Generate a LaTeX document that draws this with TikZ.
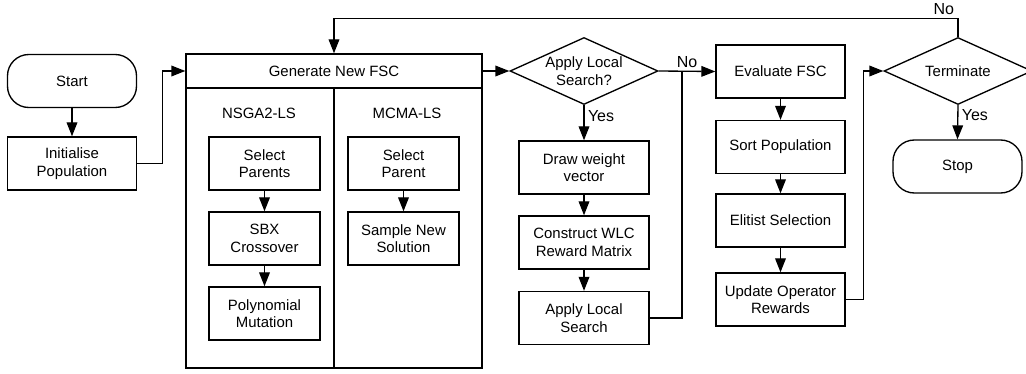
\documentclass[tikz,border=0pt]{standalone}
\usepackage{fontspec}
\setmainfont{Liberation Sans}
\usetikzlibrary{arrows.meta,shapes}

\begin{document}
\begin{tikzpicture}[x=0.75pt,y=-0.75pt,line width=1pt,
    every node/.style={font=\fontsize{11.2}{13.2}\selectfont,align=center},
    flowbox/.style={draw,rectangle,minimum width=96.75pt,minimum height=39.75pt,inner sep=1pt},
    subbox/.style={flowbox,minimum width=83.25pt},
    widebox/.style={flowbox,minimum width=97.5pt},
    terminal/.style={flowbox,rounded corners=16pt},
    decision/.style={draw,diamond,minimum width=111pt,minimum height=50.25pt,inner sep=0pt},
    answer/.style={font=\fontsize{12}{14}\selectfont,inner sep=2.5pt},
    flow/.style={-{Triangle[length=10.5pt,width=8pt]}}]

\useasboundingbox (0,0) rectangle (1026,374);

\node (start)	at (72,81)	[terminal] {Start};
\node (init)	at (72,163.5)	[flowbox] {Initialise\\Population};

\node (gen)	at (334,71)	[draw,minimum width=222pt,minimum height=25.5pt] {Generate New FSC};
\node (genbody)	at (334,228)	[draw,minimum width=222pt,minimum height=210pt] {};
\draw (gen.south) -- (genbody.south);

\node (nsga_label)	at (259,113)	{NSGA2-LS};
\node (select_parents)	at (264.5,163.5)	[subbox] {Select\\Parents};
\node (sbx)		at (264.5,238.5)	[subbox] {SBX\\Crossover};
\node (polymut)	at (264.5,313.5)	[subbox] {Polynomial\\Mutation};

\node (mcma_label)	at (407,113)	{MCMA-LS};
\node (select_parent)	at (403.5,163.5)	[subbox] {Select\\Parent};
\node (sample)	at (403.5,238.5)	[subbox] {Sample New\\Solution};

\node (apply_ls)	at (584,71)	[decision,label={[align=center]center:Apply Local\\Search?}] {};
\node (draw_weight)	at (584,167.5)	[widebox] {Draw weight\\vector};
\node (wlc)		at (584,242.5)	[widebox] {Construct WLC\\Reward Matrix};
\node (local_search)	at (584,318)	[widebox] {Apply Local\\Search};
\coordinate (skip_ls)	at (682,71);

\node (evaluate)	at (780.5,71.5)	[flowbox] {Evaluate FSC};
\node (sort_pop)	at (780.5,147)	[flowbox] {Sort Population};
\node (elitist)	at (780.5,220.5)	[flowbox] {Elitist Selection};
\node (update)	at (780.5,299.5)	[flowbox] {Update Operator\\Rewards};

\node (terminate)	at (958,71)	[decision,label={center:Terminate}] {};
\node (stop)	at (957.5,166.5)	[terminal] {Stop};

\draw [flow] (start) to (init);
\draw [flow] (init.east) -- ++(25,0) |- (gen.west);
\draw [flow] (select_parents) to (sbx);
\draw [flow] (sbx) to (polymut);
\draw [flow] (select_parent) to (sample);
\draw [flow] (gen.east) to (apply_ls.west);
\draw [flow] (apply_ls.south) to node[answer,right,pos=0.3]{Yes} (draw_weight.north);
\draw [flow] (draw_weight) to (wlc);
\draw [flow] (wlc) to (local_search);
\draw (local_search.east) -| (skip_ls);
\draw [flow] (apply_ls.east) to node[answer,above]{No} (evaluate.west);
\draw [flow] (evaluate) to (sort_pop);
\draw [flow] (sort_pop) to (elitist);
\draw [flow] (elitist) to (update);
\draw [flow] (update.east) -- ++(18,0) |- (terminate.west);
\draw [flow] (terminate.south) to node[answer,right,pos=0.3]{Yes} (stop.north);
\draw [flow] (terminate.north) -- ++(0,-18) node[answer,above left]{No} -| (gen.north);

\end{tikzpicture}
\end{document}
